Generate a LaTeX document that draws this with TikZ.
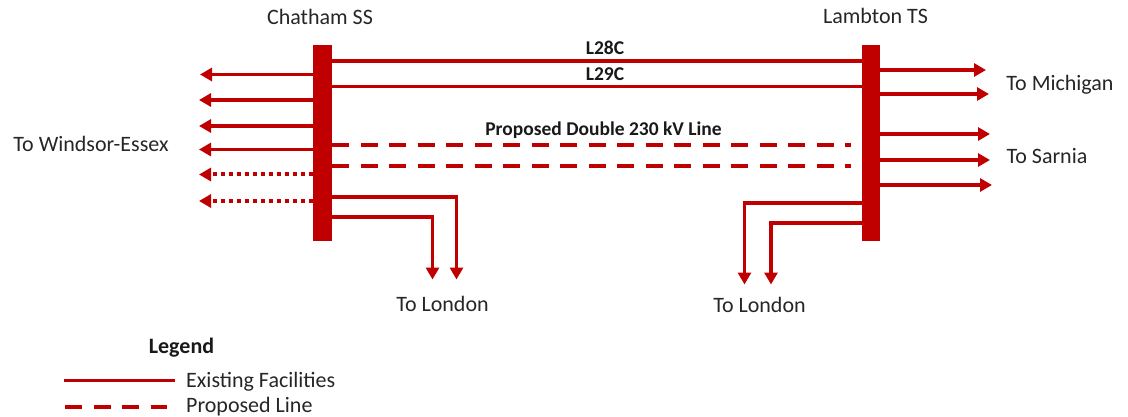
\documentclass[tikz,border=0pt]{standalone}
\usepackage{fontspec}
\setmainfont{Carlito}
\usetikzlibrary{arrows.meta}
\definecolor{linered}{HTML}{C00000}
\tikzset{
  busbar/.style={fill=linered, inner sep=0pt, minimum width=#1, minimum height=196pt},
  line/.style={draw=linered, line width=3.6pt},
  feeder/.style={line, -{Triangle[length=12pt,width=13pt]}},
  newline/.style={line, line width=4pt, dash pattern=on 17pt off 11.5pt},
  dotline/.style={feeder, line width=4pt, dash pattern=on 4pt off 4pt},
  place/.style={font=\fontsize{22}{26}\selectfont, inner sep=0pt, text=black!85},
  tag/.style={font=\fontsize{19.5}{23}\selectfont\bfseries, inner sep=0pt, text=black!90}
}
\begin{document}
\begin{tikzpicture}[x=1pt, y=-1pt]
\useasboundingbox (0,0) rectangle (1128,417);

% Buses
\node[busbar=19pt] (chatham) at (322.5,143) {};
\node[busbar=18pt] (lambton) at (871,143) {};

% Ties
\coordinate (l28) at (600,61);
\coordinate (l29) at (600,86.5);
\draw[line] (chatham.east |- l28) -- (lambton.west |- l28);
\draw[line] (chatham.east |- l29) -- (lambton.west |- l29);

% Proposed
\coordinate (newa) at (851,145);
\coordinate (newb) at (851,166);
\draw[newline] (chatham.east |- newa) -- (newa);
\draw[newline] (chatham.east |- newb) -- (newb);

% Windsor side
\coordinate (wa) at (200,74.5);
\coordinate (wb) at (199,100);
\coordinate (wc) at (199,126);
\coordinate (wd) at (199,149.5);
\coordinate (we) at (199,174.5);
\coordinate (wf) at (199,201);
\foreach \w in {wa,wb,wc,wd}
  \draw[feeder] (chatham.west |- \w) -- (\w);
\foreach \w in {we,wf}
  \draw[dotline] (chatham.west |- \w) -- (\w);

% Michigan and Sarnia side
\coordinate (ma) at (986,70);
\coordinate (mb) at (989,94);
\coordinate (sa) at (990,134);
\coordinate (sb) at (990,160);
\coordinate (sc) at (992,185);
\foreach \e in {ma,mb,sa,sb,sc}
  \draw[feeder] (lambton.east |- \e) -- (\e);

% London
\coordinate (ca) at (456.5,279.5);
\coordinate (cb) at (432.5,279.5);
\coordinate (la) at (744.5,284.5);
\coordinate (lb) at (771,284.5);
\draw[feeder] (chatham.east |- 0,197) -| (ca);
\draw[feeder] (chatham.east |- 0,217) -| (cb);
\draw[feeder] (lambton.west |- 0,203) -| (la);
\draw[feeder] (lambton.west |- 0,223) -| (lb);

% Labels
\node[place] (chathamname) at (320,17) {Chatham SS};
\node[place] (lambtonname) at (875.5,16) {Lambton TS};
\node[tag] (l28name) at (605,47.5) {L28C};
\node[tag] (l29name) at (605,74) {L29C};
\node[tag] (newname) at (603.5,130.5) {Proposed Double 230 kV Line};
\node[place] (windsor) at (91,143.5) {To Windsor-Essex};
\node[place] (michigan) at (1060,85) {To Michigan};
\node[place] (sarnia) at (1047,156) {To Sarnia};
\node[place] (londona) at (442.5,304) {To London};
\node[place] (londonb) at (759.5,305) {To London};

% Legend
\node[tag, font=\fontsize{22}{26}\selectfont\bfseries] (legend) at (181.5,347.5) {Legend};
\node[place, anchor=west] (existing) at (186,382) {Existing Facilities};
\node[place, anchor=west] (proposed) at (186,406.5) {Proposed Line};
\coordinate (keya) at (64,380);
\coordinate (keyb) at (65,407);
\draw[draw=linered, line width=3pt] (keya) -- (175,380);
\draw[newline] (keyb) -- (167,407);
\end{tikzpicture}
\end{document}
